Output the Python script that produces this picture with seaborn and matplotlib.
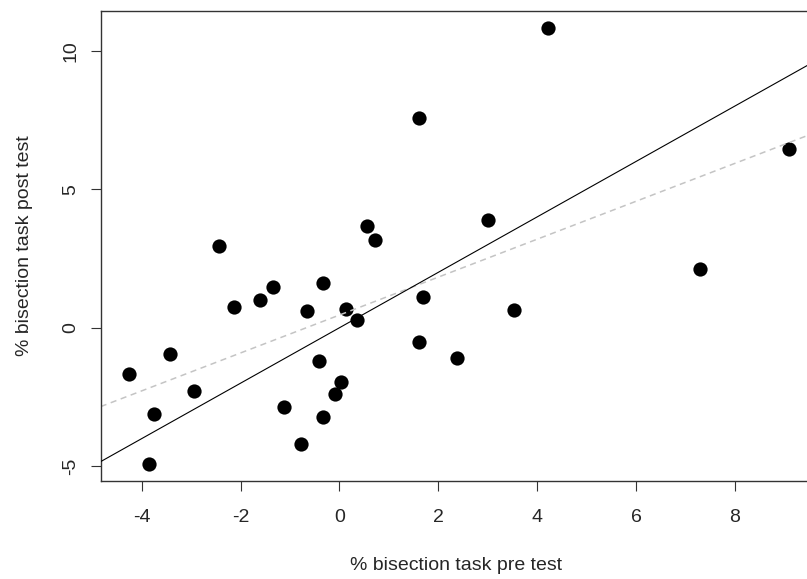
import numpy as np
import pandas as pd
from matplotlib import pyplot as plt
import seaborn as sns

# values
pre_test = [-2.44, -4.26, -3.42, -3.75, -3.85, -2.95, -2.13, -1.61, -1.34, -1.12,
            -0.65, -0.77, -0.34, -0.42, -0.34, -0.09, 0.04, 0.13, 0.36, 0.56,
            0.71, 3.01, 1.69, 1.61, 2.37, 3.54, 1.61, 4.22, 7.29, 9.10]
post_test = [2.96, -1.68, -0.94, -3.12, -4.91, -2.29, 0.76, 0.99, 1.48, -2.86,
             0.59, -4.20, 1.62, -1.20, -3.21, -2.40, -1.94, 0.69, 0.28, 3.67,
             3.17, 3.88, 1.12, -0.53, -1.10, 0.63, 7.56, 10.82, 2.11, 6.44]
x_ticks = [-4, -2, 0, 2, 4, 6, 8]
y_ticks = [-5, 0, 5, 10]

df = pd.DataFrame({"pre": pre_test, "post": post_test})

sns.set_style("white")
plt.rcParams['font.family'] = ['Liberation Sans', 'DejaVu Sans']

fig = plt.figure(figsize=(8.07, 5.79), dpi=100)
ax = fig.add_axes([100.7 / 807, 98 / 579, 709.8 / 807, 470 / 579])
xlim = (-4.83, 9.53)
ylim = (-5.53, 11.43)
ax.set_xlim(xlim)
ax.set_ylim(ylim)

sns.scatterplot(data=df, x="pre", y="post", color="black", s=105,
                linewidth=0, ax=ax, zorder=2)
# dashed grey: least squares fit
sns.regplot(data=df, x="pre", y="post", scatter=False, ci=None, truncate=False,
            line_kws=dict(color="#c4c4c4", lw=1.1, ls=(0, (4, 3))), ax=ax)
# solid: line of no change (post = pre)
ax.axline((0, 0), slope=1, color="black", lw=0.8, zorder=3)

ax.set_xlim(xlim)
ax.set_ylim(ylim)
ax.set_xticks(x_ticks)
ax.set_xticklabels([str(t) for t in x_ticks])
ax.set_yticks(y_ticks)
ax.set_yticklabels([str(t) for t in y_ticks], rotation=90, va="center")
ax.tick_params(direction="out", length=7.5, width=0.8, color="#333333",
               labelsize=14, bottom=True, left=True)
ax.tick_params(axis="x", pad=13)
ax.tick_params(axis="y", pad=8)
for sp in ax.spines.values():
    sp.set_color("#333333")
    sp.set_linewidth(1.0)

ax.set_xlabel("% bisection task pre test", fontsize=14, labelpad=22)
ax.set_ylabel("% bisection task post test", fontsize=14, labelpad=21)

plt.savefig("out.png", dpi=100)
